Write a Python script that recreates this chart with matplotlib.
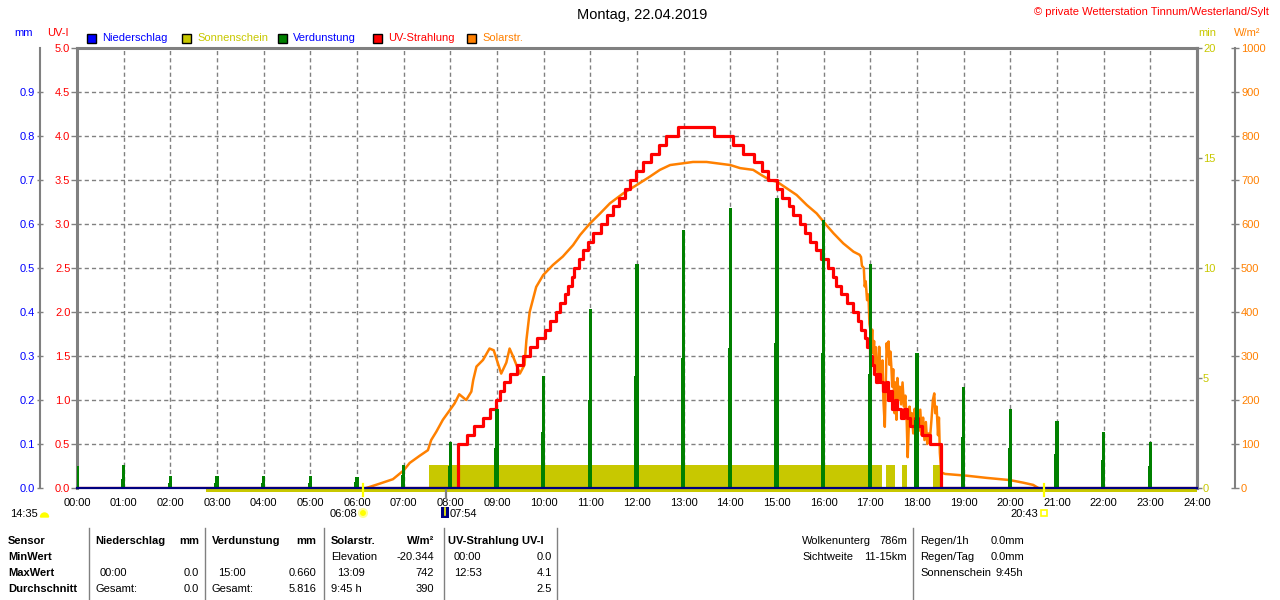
import matplotlib
matplotlib.use("Agg")
import matplotlib.pyplot as plt
from matplotlib.patches import Rectangle, Circle, Wedge
from matplotlib.lines import Line2D
from matplotlib.transforms import IdentityTransform
import numpy as np

plt.rcParams['font.family'] = ['Liberation Sans', 'DejaVu Sans']
plt.rcParams['font.size'] = 8

W, H = 1280, 600

# ---- data ----
hour_labels = [f"{h:02d}:00" for h in range(25)]
hours = list(range(24))

# Niederschlag (mm) - nothing all day
rain_mm = [0.0] * 25

# Verdunstung (mm): tall bar on the full hour and the lower one just before it
evap_main = [0.050, 0.052, 0.027, 0.027, 0.027, 0.027, 0.025, 0.052, 0.105, 0.180, 0.255, 0.407,
             0.510, 0.586, 0.636, 0.660, 0.610, 0.510, 0.306, 0.230, 0.180, 0.152, 0.127, 0.105]
evap_side = [0.020, 0.020, 0.012, 0.012, 0.012, 0.012, 0.014, 0.030, 0.050, 0.090, 0.127, 0.200,
             0.255, 0.295, 0.318, 0.330, 0.306, 0.260, 0.155, 0.116, 0.090, 0.077, 0.064, 0.050]

# Sonnenschein (min) blocks
sun_start = [7.55, 17.34, 17.68, 18.34]
sun_end = [17.25, 17.53, 17.78, 18.52]
sun_min = [1.05, 1.05, 1.05, 1.05]

# UV-Strahlung (UV-I), value from the given time on
uv_t = [0.0, 8.16, 8.36, 8.51, 8.69, 8.85, 8.98, 9.06, 9.15, 9.28, 9.42, 9.55, 9.70, 9.85,
        10.02, 10.14, 10.26, 10.35, 10.45, 10.53, 10.60, 10.66, 10.76, 10.85, 10.95, 11.05,
        11.22, 11.35, 11.48, 11.61, 11.74, 11.85, 11.98, 12.12, 12.30, 12.47, 12.62, 12.87,
        13.66, 14.05, 14.27, 14.50, 14.68, 14.81, 14.99, 15.10, 15.26, 15.35, 15.49, 15.60,
        15.70, 15.84, 15.95, 16.10, 16.20, 16.27, 16.38, 16.50, 16.63, 16.74, 16.81, 16.88,
        16.93, 16.99, 17.04, 17.08, 17.12, 17.16, 17.20, 17.28, 17.33, 17.37, 17.42, 17.47,
        17.52, 17.57, 17.66, 17.72, 17.78, 17.86, 17.95, 18.02, 18.10, 18.27, 18.51, 24.0]
uv_val = [0.0, 0.5, 0.6, 0.7, 0.8, 0.9, 1.0, 1.1, 1.2, 1.3, 1.4, 1.5, 1.6, 1.7,
          1.8, 1.9, 2.0, 2.1, 2.2, 2.3, 2.4, 2.5, 2.6, 2.7, 2.8, 2.9,
          3.0, 3.1, 3.2, 3.3, 3.4, 3.5, 3.6, 3.7, 3.8, 3.9, 4.0, 4.1,
          4.0, 3.9, 3.8, 3.7, 3.6, 3.5, 3.4, 3.3, 3.2, 3.1, 3.0, 2.9,
          2.8, 2.7, 2.6, 2.5, 2.4, 2.3, 2.2, 2.1, 2.0, 1.9, 1.8, 1.7,
          1.6, 1.5, 1.4, 1.3, 1.2, 1.3, 1.2, 1.1, 1.2, 1.0, 1.1, 0.9,
          1.0, 0.9, 0.8, 0.9, 0.8, 0.7, 0.8, 0.7, 0.6, 0.5, 0.0, 0.0]

# Solarstrahlung (W/m²)
solar_t = [6.20, 6.49, 6.77, 7.00, 7.13, 7.34, 7.52, 7.59, 7.70, 7.84, 7.99, 8.09, 8.19, 8.34,
           8.45, 8.49, 8.56, 8.70, 8.84, 8.93, 9.09, 9.20, 9.27, 9.34, 9.49, 9.59, 9.63, 9.70,
           9.84, 9.99, 10.20, 10.41, 10.63, 10.78, 10.99, 11.21, 11.42, 11.71, 12.00, 12.28,
           12.49, 12.71, 13.00, 13.20, 13.49, 13.71, 14.00, 14.21, 14.49, 14.67, 14.85, 15.00,
           15.21, 15.42, 15.64, 15.85, 16.03, 16.21, 16.42, 16.64, 16.77, 16.80, 16.82, 16.86,
           16.88, 16.90, 16.93, 16.96, 16.98, 17.00, 17.02, 17.04, 17.06, 17.08, 17.10, 17.12,
           17.14, 17.17, 17.19, 17.21, 17.24, 17.26, 17.28, 17.31, 17.33, 17.35, 17.37, 17.39,
           17.41, 17.43, 17.45, 17.47, 17.49, 17.52, 17.54, 17.56, 17.58, 17.61, 17.63, 17.66,
           17.69, 17.72, 17.75, 17.78, 17.80, 17.82, 17.84, 17.87, 17.89, 17.92, 17.95, 17.98,
           18.01, 18.04, 18.07, 18.10, 18.13, 18.16, 18.19, 18.22, 18.25, 18.28, 18.31, 18.34,
           18.37, 18.39, 18.42, 18.45, 18.47, 18.49, 18.51, 18.53, 18.60, 19.06, 19.49, 19.99,
           20.28, 20.49, 20.60]
solar_w = [0, 10, 20, 40, 57, 73, 86, 109, 128, 155, 177, 192, 213, 200,
           219, 245, 276, 291, 317, 313, 260, 285, 317, 300, 260, 280, 336, 400,
           457, 484, 507, 526, 552, 575, 601, 624, 647, 670, 689, 708,
           723, 734, 738, 741, 741, 738, 734, 727, 723, 711, 700, 696,
           681, 666, 643, 624, 601, 579, 556, 537, 530, 525, 505, 500,
           458, 470, 427, 440, 374, 360, 321, 360, 306, 334, 280, 320,
           276, 245, 321, 260, 245, 290, 200, 139, 230, 329, 300, 333,
           280, 310, 276, 230, 270, 170, 240, 155, 250, 200, 230, 190,
           240, 185, 210, 150, 70, 130, 185, 150, 170, 124, 180, 140,
           185, 130, 178, 120, 160, 109, 150, 100, 124, 115, 155, 200,
           215, 170, 185, 120, 160, 80, 50, 35, 32, 28, 23, 18,
           12, 7, 0]

C_BLUE = '#0000ff'
C_SUN = '#c8c800'
C_GREEN = '#008000'
C_RED = '#ff0000'
C_ORANGE = '#ff8000'
C_GRAY = '#808080'
C_NAVY = '#000080'


def fx(px):
    return px / W


def fy(py):
    return 1 - py / H


fig = plt.figure(figsize=(12.8, 6), dpi=100)
ax = fig.add_axes([77 / W, 112 / H, 1120 / W, 440 / H])
ax.set_xlim(0, 24)
ax.set_ylim(0, 5)

# UV-I axis (left, red) + grid
uv_ticks = np.arange(0, 5.01, 0.5)
ax.set_yticks(uv_ticks)
ax.set_yticklabels([f"{v:.1f}" for v in uv_ticks])
ax.tick_params(axis='y', direction='out', length=4.3, width=1, color=C_GRAY, pad=0.5,
               labelcolor=C_RED)
ax.set_xticks(range(25))
ax.set_xticklabels(hour_labels)
ax.tick_params(axis='x', length=0, pad=7)
ax.grid(True, color=C_GRAY, linestyle=(0, (3, 2.2)), linewidth=1)
for s in ['left', 'top', 'right']:
    ax.spines[s].set_color(C_GRAY)
    ax.spines[s].set_linewidth(2.2)
ax.spines['bottom'].set_visible(False)

# Sonnenschein axis (right, min)
ax_min = ax.twinx()
ax_min.set_ylim(0, 20)
ax_min.set_yticks([0, 5, 10, 15, 20])
ax_min.set_yticklabels(['0', '5', '10', '15', '20'])
ax_min.tick_params(axis='y', direction='out', length=3.6, width=1, color=C_GRAY, pad=0.7,
                   labelcolor=C_SUN)
for s in ['left', 'top', 'bottom']:
    ax_min.spines[s].set_visible(False)
ax_min.spines['right'].set_color(C_GRAY)
ax_min.spines['right'].set_linewidth(2.2)
ax_min.bar(sun_start, sun_min, width=[e - s for s, e in zip(sun_start, sun_end)],
           align='edge', color=C_SUN, linewidth=0)
ax_min.add_patch(Rectangle((2.77, -0.16), 24 - 2.77, 0.16, color=C_SUN, linewidth=0,
                           clip_on=False))

# Solarstrahlung axis (outer right, W/m²)
ax_w = ax.twinx()
ax_w.set_ylim(0, 1000)
w_ticks = list(range(0, 1001, 100))
ax_w.set_yticks(w_ticks)
ax_w.set_yticklabels([str(v) for v in w_ticks])
ax_w.spines['right'].set_position(('outward', 27.4))
ax_w.tick_params(axis='y', direction='inout', length=5.8, width=1, color=C_GRAY, pad=1.4,
                 labelcolor=C_ORANGE)
for s in ['left', 'top', 'bottom']:
    ax_w.spines[s].set_visible(False)
ax_w.spines['right'].set_color(C_GRAY)
ax_w.spines['right'].set_linewidth(1.5)
ax_w.plot(solar_t, solar_w, color=C_ORANGE, linewidth=1.8)

# UV-Strahlung line on its own layer
ax_uv = ax.twinx()
ax_uv.set_ylim(0, 5)
ax_uv.set_yticks([])
for s in ax_uv.spines.values():
    s.set_visible(False)
ax_uv.plot(uv_t, uv_val, drawstyle='steps-post', color=C_RED, linewidth=2.3)

# mm axis (outer left) for Verdunstung / Niederschlag
ax_mm = ax.twinx()
ax_mm.set_ylim(0, 1.0)
ax_mm.yaxis.tick_left()
mm_ticks = np.arange(0, 0.91, 0.1)
ax_mm.set_yticks(mm_ticks)
ax_mm.set_yticklabels([f"{v:.1f}" for v in mm_ticks])
ax_mm.spines['left'].set_position(('outward', 26.6))
ax_mm.tick_params(axis='y', direction='inout', length=5, width=1, color=C_GRAY, pad=1.1,
                  labelcolor=C_BLUE)
for s in ['right', 'top', 'bottom']:
    ax_mm.spines[s].set_visible(False)
ax_mm.spines['left'].set_color(C_GRAY)
ax_mm.spines['left'].set_linewidth(1.5)
ax_mm.bar([h - 0.03 for h in hours], evap_side, width=0.05, color=C_GREEN, linewidth=0)
ax_mm.bar(hours, evap_main, width=0.065, color=C_GREEN, linewidth=0)
ax_mm.plot(range(25), rain_mm, color=C_NAVY, linewidth=1.6, clip_on=False)

# sunrise / sunset and other markers below the time axis
ax_mm.plot([6.13, 6.13], [-0.018, 0.009], color='#ffff00', linewidth=1.6, clip_on=False)
ax_mm.plot([20.72, 20.72], [-0.018, 0.009], color='#ffff00', linewidth=1.6, clip_on=False)
ax_mm.plot([7.9, 7.9], [-0.005, -0.023], color=C_GRAY, linewidth=1.6, clip_on=False)

ident = IdentityTransform()
fig.add_artist(Wedge((44.5, H - 517), 4, 0, 180, color='#ffff00', transform=ident))
fig.add_artist(Circle((363, H - 513), 4, facecolor='#ffff00', edgecolor='#ffff99',
                      linewidth=1.5, transform=ident))
fig.add_artist(Rectangle((441, H - 518), 8, 11, facecolor=C_NAVY, edgecolor='none',
                         transform=ident))
fig.add_artist(Line2D([445, 445], [H - 508, H - 515], color='#ffff00', linewidth=1.2,
                      transform=ident))
fig.add_artist(Rectangle((1041, H - 516), 6, 6, facecolor='none', edgecolor='#ffff00',
                         linewidth=1.2, transform=ident))
fig.text(fx(10), fy(514), "14:35", ha='left', va='center')
fig.text(fx(357), fy(514), "06:08", ha='right', va='center')
fig.text(fx(450), fy(514), "07:54", ha='left', va='center')
fig.text(fx(1038), fy(514), "20:43", ha='right', va='center')

# title and headers
fig.text(fx(642), fy(15), "Montag, 22.04.2019", ha='center', va='center', fontsize=10.5)
fig.text(fx(1269), fy(12), "\u00a9 private Wetterstation Tinnum/Westerland/Sylt", ha='right',
         va='center', color=C_RED)
fig.text(fx(14), fy(33), "mm", ha='left', va='center', color=C_BLUE)
fig.text(fx(47), fy(33), "UV-I", ha='left', va='center', color=C_RED)
fig.text(fx(1198), fy(33), "min", ha='left', va='center', color=C_SUN)
fig.text(fx(1234), fy(33), "W/m\u00b2", ha='left', va='center', color=C_ORANGE)

# legend
legend_items = [("Niederschlag", C_BLUE, C_BLUE, 87),
                ("Sonnenschein", C_SUN, C_SUN, 182),
                ("Verdunstung", C_GREEN, C_BLUE, 278),
                ("UV-Strahlung", C_RED, C_RED, 373),
                ("Solarstr.", C_ORANGE, C_ORANGE, 467)]
for name, box_col, txt_col, x0 in legend_items:
    fig.add_artist(Rectangle((x0, H - 43), 9, 9, facecolor=box_col, edgecolor='black',
                             linewidth=1, transform=ident))
    fig.text(fx(x0 + 15), fy(38), name, ha='left', va='center', color=txt_col)

# statistics table
for xs in [89, 205, 324, 444, 557, 913]:
    fig.add_artist(Line2D([xs, xs], [H - 528, 0], color=C_GRAY, linewidth=1, transform=ident))

rows_y = [541, 557, 573, 589]
for label, yy in zip(["Sensor", "MinWert", "MaxWert", "Durchschnitt"], rows_y):
    fig.text(fx(8), fy(yy), label, ha='left', va='center', fontweight='bold')

table_left = [
    (95, 541, "Niederschlag", True), (100, 573, "00:00", False), (95, 589, "Gesamt:", False),
    (212, 541, "Verdunstung", True), (218, 573, "15:00", False), (212, 589, "Gesamt:", False),
    (331, 541, "Solarstr.", True), (331, 557, "Elevation", False), (337, 573, "13:09", False),
    (331, 589, "9:45 h", False),
    (448, 541, "UV-Strahlung UV-I", True), (454, 557, "00:00", False), (454, 573, "12:53", False),
    (802, 541, "Wolkenunterg", False), (802, 557, "Sichtweite", False),
    (920, 541, "Regen/1h", False), (991, 541, "0.0mm", False),
    (920, 557, "Regen/Tag", False), (991, 557, "0.0mm", False),
    (920, 573, "Sonnenschein", False), (995, 573, "9:45h", False),
]
table_right = [
    (199, 541, "mm", True), (199, 573, "0.0", False), (199, 589, "0.0", False),
    (316, 541, "mm", True), (316, 573, "0.660", False), (316, 589, "5.816", False),
    (434, 541, "W/m\u00b2", True), (434, 557, "-20.344", False), (434, 573, "742", False),
    (434, 589, "390", False),
    (552, 557, "0.0", False), (552, 573, "4.1", False), (552, 589, "2.5", False),
    (907, 541, "786m", False), (907, 557, "11-15km", False),
]
for xx, yy, txt, bold in table_left:
    fig.text(fx(xx), fy(yy), txt, ha='left', va='center',
             fontweight='bold' if bold else 'normal')
for xx, yy, txt, bold in table_right:
    fig.text(fx(xx), fy(yy), txt, ha='right', va='center',
             fontweight='bold' if bold else 'normal')

fig.savefig("out.png", dpi=100)
